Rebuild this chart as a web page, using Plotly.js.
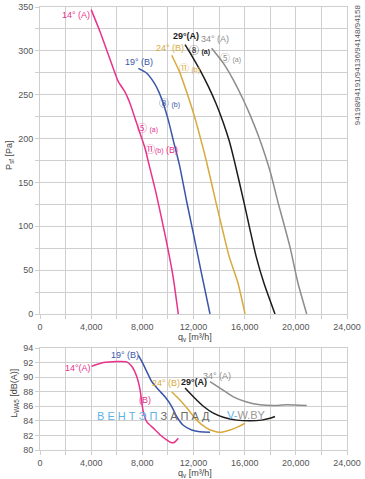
<!DOCTYPE html>
<html>
<head>
<meta charset="utf-8">
<script src="https://cdn.plot.ly/plotly-3.0.1.min.js"></script>
<style>html,body{margin:0;padding:0;background:#fff;}#chart{width:365px;height:479px;}</style>
</head>
<body>
<div id="chart"></div>
<script>
// ---- Pressure curves (top chart): airflow q [m3/h], static pressure P [Pa]
var q14p = [4000,4690,5210,5730,6120,6650,7040,7430,7820,8210,8530,9070,9810,10400,10810];
var p14p = [347,322,301,280,265,253,240,223,206,189,170,138,88,43,0];
var q19p = [7690,8300,8900,9300,9640,10030,10420,10900,11470,12000,12600,13290];
var p19p = [280,275,264,253,240,221,198,170,128,91,48,0];
var q24p = [10300,10910,11420,11850,12200,12590,12980,13760,14270,14780,15480,16030];
var p24p = [295,276,255,236,219,198,176,127,96,66,35,0];
var q29p = [11340,11880,12510,13140,13760,14310,14780,15170,15950,16420,16890,17510,18370];
var p29p = [307,294,278,260,240,219,198,176,127,96,66,35,0];
var q34p = [13420,14330,15110,15900,16420,17050,17600,18060,18610,19080,19550,20170,20850];
var p34p = [303,286,267,244,227,204,181,159,127,102,76,35,0];

// ---- Sound power curves (bottom chart): airflow q [m3/h], L [dB(A)]
var q14s = [4040,4950,6000,6780,7170,7560,7820,7930,8070,8340,8860,9380,9900,10300,10550,10810];
var l14s = [91.5,92.0,92.15,92.1,91.5,90.1,88.3,86.9,85.3,83.9,83.0,82.1,81.4,81.0,81.1,81.6];
var q19s = [7690,7950,8340,8730,9250,9770,10290,10680,11200,11860,12500,13290];
var l19s = [93.0,92.2,90.8,89.4,88.3,87.3,86.0,84.6,83.4,82.75,82.5,82.45];
var q24s = [10290,10810,11470,12250,13030,13550,14070,14860,15510,16030];
var l24s = [88.0,87.1,85.8,84.1,83.0,82.6,82.43,82.75,83.2,83.67];
var q29s = [11340,11990,12770,13550,14330,15380,16420,17330,17980,18370];
var l29s = [88.5,87.3,86.0,85.05,84.5,84.1,84.0,84.1,84.35,84.6];
var q34s = [13290,14070,15110,16160,17200,18240,19290,20850];
var l34s = [89.4,88.5,87.3,86.6,86.2,86.1,86.2,86.1];

var names = ["14° (A)","19° (B)","24° (B)","29° (A)","34° (A)"];
var colors = ["#e8328c","#3a56a8","#d8a93c","#1c1c1c","#8c8c8c"];

var topQ = [q14p,q19p,q24p,q29p,q34p], topP = [p14p,p19p,p24p,p29p,p34p];
var botQ = [q14s,q19s,q24s,q29s,q34s], botL = [l14s,l19s,l24s,l29s,l34s];

var data = [];
for (var i=0;i<5;i++){
  data.push({x:topQ[i], y:topP[i], xaxis:'x', yaxis:'y', mode:'lines', name:names[i],
    line:{color:colors[i], width:1.5, shape:'spline', smoothing:0.6}, hoverinfo:'skip'});
  data.push({x:botQ[i], y:botL[i], xaxis:'x2', yaxis:'y2', mode:'lines', name:names[i],
    line:{color:colors[i], width:1.5, shape:'spline', smoothing:0.6}, hoverinfo:'skip'});
}

var FONT = "Liberation Sans, Arial, Noto Sans CJK SC, sans-serif";
var grid = "#cfcfcf";
function xax(anchor){
  return {range:[0,24000], dtick:4000, tick0:0, tickformat:',', anchor:anchor,
    showgrid:true, gridcolor:grid, gridwidth:1, zeroline:false,
    showline:true, linecolor:grid, mirror:true,
    ticks:'outside', ticklen:4, tickcolor:grid,
    minor:{dtick:2000, showgrid:true, gridcolor:grid, ticks:'outside', ticklen:4, tickcolor:grid},
    tickfont:{size:9, color:'#555', family:FONT}, fixedrange:true};
}
function yax(range, dtick, minor, dom, anchor){
  var o = {range:range, dtick:dtick, tick0:range[0], domain:dom, anchor:anchor,
    showgrid:true, gridcolor:grid, gridwidth:1, zeroline:false,
    showline:true, linecolor:grid, mirror:true,
    ticks:'outside', ticklen:4, tickcolor:grid,
    tickfont:{size:9, color:'#555', family:FONT}, fixedrange:true};
  if (minor) o.minor = {dtick:minor, showgrid:true, gridcolor:grid, ticks:'outside', ticklen:4, tickcolor:grid};
  return o;
}

function lab(x,y,text,color,ref,opts){
  var a = {x:x, y:y, xref:ref[0], yref:ref[1], text:text, showarrow:false,
    font:{size:9, color:color, family:FONT}, xanchor:'center', yanchor:'middle'};
  if (opts) for (var k in opts) a[k]=opts[k];
  return a;
}
var T = ['x','y'], B = ['x2','y2'];
var sm = "<span style='font-size:7px'>";
function circ(ch){ return "<span style='font-family:\"Noto Sans CJK JP\";font-size:10px'>"+ch+"</span>"; }
var annotations = [
  lab(2815,341,"14° (A)",colors[0],T),
  lab(7740,287,"19° (B)",colors[1],T),
  lab(10160,303,"24° (B)",colors[2],T),
  lab(11415,317,"<b>29°(A)</b>",colors[3],T),
  lab(13680,314,"34° (A)",colors[4],T),
  lab(7430,213,circ("⑤")+" "+sm+"(a)</span>",colors[0],T,{xanchor:'left'}),
  lab(8050,189,circ("⑪")+sm+"(b)</span> (B)",colors[0],T,{xanchor:'left'}),
  lab(9150,241,circ("⑧")+" "+sm+"(b)</span>",colors[1],T,{xanchor:'left'}),
  lab(10710,281,circ("⑪")+" "+sm+"(b)</span>",colors[2],T,{xanchor:'left'}),
  lab(11490,301,circ("⑧")+" "+sm+"<b>(a)</b></span>",colors[3],T,{xanchor:'left'}),
  lab(13920,292,circ("⑤")+" "+sm+"(a)</span>",colors[4],T,{xanchor:'left'}),

  lab(2970,91.3,"14°(A)",colors[0],B),
  lab(6650,93.1,"19° (B)",colors[1],B),
  lab(8210,86.9,"(B)",colors[0],B),
  lab(9850,89.2,"24° (B)",colors[2],B),
  lab(12050,89.35,"<b>29°(A)</b>",colors[3],B),
  lab(13840,90.2,"34° (A)",colors[4],B),

  lab(8910,84.7,"<span style='color:#5fb2e4'>В Е Н Т Э П</span> З А П А Д","#6a6a6a",B,{font:{size:11, color:'#6a6a6a', family:FONT}}),
  lab(16180,84.8,"<span style='color:#5fb2e4'>V-</span>W.BY","#9a9a9a",B,{font:{size:11, color:'#9a9a9a', family:FONT}}),

  {x:-0.098, y:0.666, xref:'paper', yref:'paper', text:"P<sub>sf</sub> [Pa]", textangle:-90, showarrow:false,
    font:{size:9, color:'#444', family:FONT}, xanchor:'center', yanchor:'middle'},
  {x:-0.082, y:0.129, xref:'paper', yref:'paper', text:"L<sub>WA5</sub> [dB(A)]", textangle:-90, showarrow:false,
    font:{size:9, color:'#444', family:FONT}, xanchor:'center', yanchor:'middle'},
  {x:0.505, y:0.255, xref:'paper', yref:'paper', text:"q<sub>v</sub> [m³/h]", showarrow:false,
    font:{size:9, color:'#444', family:FONT}, xanchor:'center', yanchor:'middle'},
  {x:0.505, y:-0.053, xref:'paper', yref:'paper', text:"q<sub>v</sub> [m³/h]", showarrow:false,
    font:{size:9, color:'#444', family:FONT}, xanchor:'center', yanchor:'middle'},
  {x:1.033, y:0.869, xref:'paper', yref:'paper', text:"94198/94191/94136/94148/94158", textangle:-90, showarrow:false,
    font:{size:8, color:'#555', family:FONT}, xanchor:'center', yanchor:'middle'}
];

var layout = {
  width:365, height:479,
  margin:{l:40, r:18, t:7, b:29},
  paper_bgcolor:'#fff', plot_bgcolor:'#fff',
  showlegend:false,
  xaxis: xax('y'),
  yaxis: yax([0,350],50,25,[0.307,1],'x'),
  xaxis2: xax('y2'),
  yaxis2: yax([80,94],2,null,[0,0.2302],'x2'),
  annotations: annotations,
  font:{family:FONT}
};

Plotly.newPlot('chart', data, layout, {staticPlot:true, displayModeBar:false});
</script>
</body>
</html>
